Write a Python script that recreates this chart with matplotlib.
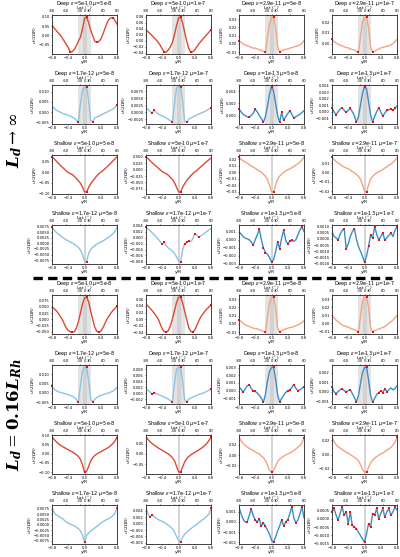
import numpy as np
import matplotlib
matplotlib.use('Agg')
import matplotlib.pyplot as plt
from matplotlib.lines import Line2D
from matplotlib.ticker import MultipleLocator

# ---------------- data ----------------
y_over_R = [-0.8, -0.75, -0.7, -0.65, -0.6, -0.55, -0.5, -0.45, -0.4, -0.35, -0.3, -0.25, -0.2,
            -0.15, -0.1, -0.05, 0.0, 0.05, 0.1, 0.15, 0.2, 0.25, 0.3, 0.35, 0.4, 0.45, 0.5,
            0.55, 0.6, 0.65, 0.7, 0.75, 0.8]
lat_tick_pos = [-0.8, -0.46, -0.11, 0.0, 0.11, 0.46, 0.8]
lat_tick_lbl = ['-80', '-60', '-30', '0', '30', '60', '80']

eps_big = ['5e-10', '5e-10', '2.9e-11', '2.9e-11']
eps_small = ['1.7e-12', '1.7e-12', '1e-13', '1e-13']
mu_vals = ['5e-8', '1e-7', '5e-8', '1e-7']
regime = ['Deep', 'Deep', 'Shallow', 'Shallow']

# y tick spacing (row by row, 4 columns)
ystep_r1 = [0.05, 0.02, 0.01, 0.01]
ystep_r2 = [0.005, 0.0025, 0.002, 0.001]
ystep_r3 = [0.05, 0.025, 0.01, 0.01]
ystep_r4 = [0.0025, 0.002, 0.001, 0.0005]
ystep_r5 = [0.025, 0.02, 0.01, 0.01]
ystep_r6 = [0.005, 0.002, 0.001, 0.001]
ystep_r7 = [0.05, 0.05, 0.02, 0.02]
ystep_r8 = [0.0025, 0.002, 0.001, 0.0005]

# ---- L_d -> infinity ----
u_r1c1 = [0.055,0.04,0.028,0.015,0.003,-0.012,-0.03,-0.048,-0.065,-0.09,-0.086,-0.075,-0.055,-0.03,-0.01,0.035,0.09,0.1,0.07,0.03,0.0,-0.03,-0.037,-0.033,-0.02,0.005,0.035,0.065,0.085,0.094,0.095,0.08,0.06]
u_r1c2 = [0.037,0.03,0.024,0.017,0.01,0.003,-0.005,-0.015,-0.027,-0.038,-0.038,-0.03,-0.02,-0.005,0.02,0.05,0.075,0.08,0.06,0.03,0.0,-0.025,-0.038,-0.037,-0.03,-0.02,-0.01,-0.002,0.006,0.014,0.021,0.029,0.037]
u_r1c3 = [0.004,0.002,0.0,-0.001,-0.002,-0.003,-0.004,-0.005,-0.005,-0.006,-0.007,-0.008,-0.009,-0.01,0.008,0.025,0.032,0.033,0.02,-0.003,-0.01,-0.008,-0.0075,-0.0065,-0.006,-0.005,-0.0045,-0.0035,-0.003,-0.002,-0.001,0.001,0.004]
u_r1c4 = [0.004,0.002,0.0005,-0.0005,-0.0015,-0.002,-0.003,-0.0035,-0.004,-0.005,-0.0055,-0.006,-0.007,-0.008,0.006,0.02,0.024,0.025,0.015,-0.003,-0.008,-0.007,-0.006,-0.005,-0.004,-0.0035,-0.003,-0.0025,-0.002,-0.001,0.0,0.002,0.004]
u_r2c1 = [0.003,0.002,0.001,0.0005,0.0,-0.0005,-0.001,-0.0012,-0.0015,-0.002,-0.0025,-0.003,-0.004,-0.005,0.004,0.011,0.012,0.0125,0.006,-0.004,-0.005,-0.003,-0.0025,-0.002,-0.0015,-0.001,-0.0005,0.0,0.0005,0.001,0.0015,0.0025,0.0035]
u_r2c2 = [0.0017,0.001,0.0003,-0.0003,0.0007,0.0,-0.0005,-0.001,-0.0013,-0.0016,-0.002,-0.0025,-0.003,-0.0035,0.003,0.0085,0.009,0.009,0.004,-0.003,-0.0035,-0.0025,-0.002,-0.0017,-0.0013,-0.001,-0.0006,-0.0003,0.0,0.0003,0.0007,0.0012,0.0016]
u_r2c3 = [0.0011,0.0006,0.0002,0.0,-0.0002,-0.0003,0.0,0.0004,0.001,0.0006,0.0,-0.0005,-0.0011,-0.0002,0.0015,0.0035,0.0047,0.004,0.002,0.0,-0.0011,0.0005,-0.0008,-0.0002,0.0003,0.0008,0.0002,-0.0004,-0.0002,0.0,0.0002,0.0005,0.0008]
u_r2c4 = [0.0006,0.0,-0.0005,0.0,0.0004,0.0006,0.0002,-0.0001,0.0002,0.0005,0.0,-0.0006,-0.0016,-0.0008,0.001,0.0028,0.0038,0.0035,0.0015,-0.0005,-0.0016,-0.0007,0.0,0.0006,0.0,-0.0007,-0.0002,0.0002,0.0003,0.0004,0.0002,0.0005,0.0009]
u_r3c1 = [0.072,0.063,0.053,0.043,0.033,0.024,0.015,0.006,-0.002,-0.007,-0.011,-0.02,-0.03,-0.04,-0.052,-0.07,-0.092,-0.094,-0.072,-0.055,-0.042,-0.03,-0.018,-0.008,0.0,0.007,0.015,0.024,0.033,0.043,0.053,0.062,0.072]
u_r3c2 = [0.05,0.043,0.035,0.027,0.02,0.013,0.006,-0.001,-0.008,-0.012,-0.016,-0.022,-0.03,-0.038,-0.05,-0.068,-0.086,-0.088,-0.07,-0.055,-0.043,-0.033,-0.024,-0.016,-0.009,-0.003,0.004,0.011,0.018,0.025,0.032,0.039,0.045]
u_r3c3 = [0.024,0.02,0.018,0.016,0.014,0.012,0.01,0.008,0.006,0.004,0.002,0.0,-0.003,-0.006,-0.011,-0.02,-0.03,-0.031,-0.02,-0.011,-0.006,-0.003,0.0,0.002,0.004,0.005,0.007,0.009,0.011,0.013,0.016,0.019,0.023]
u_r3c4 = [0.017,0.014,0.012,0.01,0.009,0.007,0.006,0.005,0.004,0.003,0.001,0.0,-0.002,-0.004,-0.007,-0.013,-0.02,-0.021,-0.013,-0.007,-0.004,-0.002,0.0,0.001,0.002,0.003,0.005,0.006,0.008,0.009,0.011,0.013,0.016]
u_r4c1 = [0.0074,0.006,0.005,0.0042,0.0035,0.0028,0.0022,0.0016,0.0011,0.0006,0.0002,-0.0004,-0.001,-0.0018,-0.003,-0.005,-0.0078,-0.0084,-0.0045,-0.0028,-0.0018,-0.001,-0.0004,0.0001,0.0006,0.0011,0.0016,0.0022,0.0028,0.0035,0.0043,0.0054,0.0072]
u_r4c2 = [0.0037,0.003,0.0024,0.0017,0.001,0.0003,-0.0005,-0.0013,-0.0022,-0.0015,-0.0028,-0.0035,-0.004,-0.0045,-0.0053,-0.0065,-0.0078,-0.0083,-0.0042,-0.002,-0.0016,-0.0011,-0.0014,-0.0004,0.0014,0.0008,0.0001,0.0006,0.0011,0.0016,0.0021,0.0026,0.0031]
u_r4c3 = [0.001,0.0007,0.0004,0.0002,0.0001,0.0,-0.0003,-0.0007,0.0,0.0006,0.0013,0.0,-0.001,-0.0016,-0.0018,-0.0022,-0.0028,-0.0025,-0.0015,-0.0003,-0.0011,0.0002,0.0012,-0.0001,-0.0005,-0.0002,-0.0001,-0.0002,0.0,0.0006,0.0012,0.0016,0.001]
u_r4c4 = [0.0006,0.0002,0.0001,-0.0001,0.0004,0.0007,0.00085,-0.0008,-0.0004,0.0002,0.0006,0.00085,0.0,-0.0006,-0.001,-0.0014,-0.0019,-0.0014,-0.0006,0.0003,0.0001,0.001,0.0004,-0.0001,0.0002,0.0005,-0.0001,0.0001,0.0003,0.0005,0.0002,0.0007,0.001]
# ---- L_d = 0.16 L_Rh ----
u_r5c1 = [0.05,0.043,0.035,0.025,0.012,0.0,-0.018,-0.035,-0.045,-0.05,-0.052,-0.05,-0.035,-0.01,0.025,0.06,0.085,0.09,0.07,0.035,0.0,-0.03,-0.048,-0.052,-0.048,-0.035,-0.018,0.0,0.012,0.025,0.035,0.043,0.052]
u_r5c2 = [0.045,0.04,0.033,0.026,0.018,0.01,0.0,-0.015,-0.03,-0.038,-0.04,-0.035,-0.02,0.0,0.025,0.05,0.066,0.068,0.05,0.025,0.0,-0.025,-0.037,-0.04,-0.033,-0.02,-0.005,0.007,0.016,0.024,0.031,0.037,0.043]
u_r5c3 = [0.005,0.003,0.001,-0.001,-0.002,-0.003,-0.004,-0.005,-0.0055,-0.006,-0.007,-0.008,-0.009,-0.01,0.008,0.026,0.032,0.033,0.02,-0.004,-0.01,-0.008,-0.007,-0.006,-0.005,-0.0045,-0.004,-0.003,-0.002,-0.001,0.0,0.002,0.004]
u_r5c4 = [0.01,0.007,0.004,0.002,0.0,-0.002,-0.003,-0.004,-0.005,-0.006,-0.007,-0.008,-0.009,-0.011,0.008,0.027,0.032,0.033,0.02,-0.005,-0.011,-0.009,-0.008,-0.007,-0.006,-0.005,-0.004,-0.002,0.0,0.002,0.004,0.007,0.01]
u_r6c1 = [0.0037,0.002,0.0012,0.0007,0.0003,0.0,-0.0003,-0.0006,-0.001,-0.0013,-0.0018,-0.0025,-0.0035,-0.005,0.004,0.012,0.0135,0.014,0.007,-0.003,-0.005,-0.0035,-0.0025,-0.0018,-0.0013,-0.001,-0.0006,-0.0003,0.0,0.0005,0.001,0.0018,0.003]
u_r6c2 = [0.0015,0.0009,0.0004,-0.0003,0.0002,-0.0001,-0.0004,-0.0007,-0.001,-0.0013,-0.0016,-0.002,-0.0025,-0.003,0.003,0.008,0.0085,0.0088,0.004,-0.002,-0.003,-0.002,-0.0016,-0.0013,-0.001,-0.0007,-0.0004,-0.0002,0.0,0.0003,0.0006,0.001,0.0015]
u_r6c3 = [0.0005,0.0002,-0.0002,0.0002,0.0006,0.0008,0.0003,0.0,-0.0001,-0.0003,-0.0006,-0.001,-0.0015,-0.0005,0.0012,0.0025,0.003,0.0031,0.0015,-0.0005,-0.0015,-0.001,-0.0006,-0.0002,-0.0001,0.0001,0.0004,0.0008,0.0003,0.0,0.0001,0.0003,0.0005]
u_r6c4 = [0.0005,0.0,-0.0002,0.0,0.0002,0.0003,0.0001,0.0,0.0001,0.0002,-0.0002,-0.0006,-0.0011,-0.0004,0.0008,0.002,0.0025,0.0026,0.0012,-0.0004,-0.0011,-0.0007,-0.0003,-0.0001,0.0001,-0.0001,0.0003,0.0,0.0002,0.0004,0.0002,0.0003,0.0006]
u_r7c1 = [0.092,0.078,0.066,0.056,0.047,0.04,0.034,0.028,0.022,0.016,0.01,0.003,-0.005,-0.015,-0.03,-0.06,-0.1,-0.095,-0.07,-0.04,-0.022,-0.01,-0.002,0.005,0.011,0.017,0.023,0.029,0.036,0.045,0.056,0.07,0.088]
u_r7c2 = [0.085,0.072,0.061,0.052,0.044,0.037,0.03,0.024,0.018,0.012,0.006,0.0,-0.008,-0.018,-0.033,-0.06,-0.088,-0.09,-0.065,-0.04,-0.024,-0.013,-0.005,0.002,0.008,0.014,0.02,0.027,0.034,0.043,0.053,0.066,0.083]
u_r7c3 = [0.036,0.028,0.023,0.019,0.016,0.013,0.011,0.009,0.006,0.004,0.002,-0.002,-0.005,-0.011,-0.02,-0.03,-0.034,-0.031,-0.022,-0.013,-0.008,-0.005,-0.002,0.0,0.002,0.004,0.006,0.009,0.012,0.015,0.019,0.024,0.034]
u_r7c4 = [0.025,0.018,0.014,0.011,0.009,0.007,0.005,0.003,0.002,0.0,-0.002,-0.004,-0.006,-0.009,-0.014,-0.021,-0.025,-0.025,-0.018,-0.012,-0.008,-0.005,-0.003,-0.001,0.001,0.002,0.004,0.006,0.008,0.01,0.013,0.017,0.024]
u_r8c1 = [0.0085,0.0058,0.0048,0.0042,0.0036,0.003,0.0022,0.0014,0.0008,0.0003,0.0,-0.0005,-0.0012,-0.0018,-0.0028,-0.0048,-0.0082,-0.005,-0.004,-0.003,-0.0022,-0.0015,-0.0008,0.0,0.0008,0.0014,0.002,0.0025,0.003,0.0036,0.0043,0.0055,0.0079]
u_r8c2 = [0.0053,0.003,0.0021,0.0028,0.0022,0.0017,0.0013,0.001,0.0007,0.0004,0.0,-0.0005,-0.001,-0.0016,-0.0025,-0.004,-0.0052,-0.0058,-0.0042,-0.0033,-0.0027,-0.0021,-0.0016,-0.0011,-0.0006,-0.0002,0.0003,0.0008,0.0013,0.0018,0.0024,0.003,0.0048]
u_r8c3 = [0.0015,0.0008,0.0003,0.0,0.0,0.0006,0.0013,0.0006,0.0002,0.0,0.0003,-0.0004,-0.0001,-0.0004,-0.0008,-0.0012,-0.0018,-0.002,-0.0015,-0.0009,-0.0004,0.0002,-0.0004,0.0,0.0002,0.0008,0.0015,0.0004,-0.0001,0.0002,0.0008,0.0015,0.0004]
u_r8c4 = [0.0004,0.0006,0.0002,-0.0001,0.0003,0.0007,0.0002,0.0004,-0.0003,0.0004,-0.0004,-0.0005,-0.0006,-0.0008,-0.001,-0.0012,-0.0014,-0.0009,-0.0003,-0.0005,0.0003,0.0002,0.0006,0.0,0.0003,0.0006,0.0001,0.0004,0.0006,0.0002,0.0004,0.0007,0.0005]

# indices (into y_over_R) of the highlighted extrema
m_r1c1 = [9, 17, 22, 30]
m_r1c2 = [9, 17, 22, 32]
m_r1c3 = [0, 13, 17, 20]
m_r1c4 = [0, 13, 17, 20]
m_r2c1 = [13, 17, 20, 32]
m_r2c2 = [3, 4, 13, 17, 20, 32]
m_r2c3 = [0, 5, 8, 12, 16, 20, 21, 22, 25, 27]
m_r2c4 = [0, 2, 5, 7, 9, 12, 16, 20, 23, 25, 27, 29, 30, 31]
m_r3c1 = [0, 17]
m_r3c2 = [0, 17]
m_r3c3 = [0, 17]
m_r3c4 = [0, 17]
m_r4c1 = [0, 17]
m_r4c2 = [0, 8, 9, 17, 19, 20, 21, 24, 26]
m_r4c3 = [7, 10, 12, 13, 16, 19, 20, 22, 24, 25, 26, 31]
m_r4c4 = [3, 6, 7, 11, 16, 18, 19, 20, 21, 23, 25, 26, 29, 32]
m_r5c1 = [10, 17, 23, 32]
m_r5c2 = [10, 17, 23, 32]
m_r5c3 = [0, 13, 17, 20]
m_r5c4 = [13, 17, 20]
m_r6c1 = [0, 13, 17, 20]
m_r6c2 = [3, 4, 13, 17, 20, 32]
m_r6c3 = [2, 5, 7, 8, 12, 17, 20, 24, 25, 27, 29, 32]
m_r6c4 = [0, 2, 5, 7, 9, 12, 17, 20, 23, 24, 25, 26, 27]
m_r7c1 = [16, 32]
m_r7c2 = [17, 32]
m_r7c3 = [16, 32]
m_r7c4 = [17, 32]
m_r8c1 = [16, 32]
m_r8c2 = [2, 3, 17, 32]
m_r8c3 = [4, 6, 8, 9, 10, 11, 12, 13, 17, 21, 22, 23, 24, 26, 28, 31]
m_r8c4 = [0, 1, 3, 5, 6, 7, 8, 9, 10, 11, 12, 16, 18, 19, 20, 21, 22, 23, 25, 26, 28, 29, 31]

g = globals()
series = [[g[f'u_r{r}c{c}'] for c in range(1, 5)] for r in range(1, 9)]
marks = [[g[f'm_r{r}c{c}'] for c in range(1, 5)] for r in range(1, 9)]
ysteps = [g[f'ystep_r{r}'] for r in range(1, 9)]

# ---------------- figure ----------------
W, H = 400, 557
fig = plt.figure(figsize=(W / 100, H / 100), dpi=100)

lefts = [52, 146, 239, 332]
AW, AH = 65, 39
col_red, col_salmon = '#dc4a34', '#f4a383'
col_lblue, col_blue = '#8cc4e2', '#3d8dc5'
TICK_FS, LAB_FS, TITLE_FS = 2.7, 3.2, 3.5

x = np.array(y_over_R)
for r in range(8):
    top = 15 + 70 * r
    for c in range(4):
        u = np.array(series[r][c])
        ax = fig.add_axes([lefts[c] / W, 1 - (top + AH) / H, AW / W, AH / H])
        deep = regime[r % 4] == 'Deep'
        if deep:
            ax.axvspan(-0.16, 0.17, color='#e3e3e3', lw=0, zorder=0)
            ax.axvspan(-0.04, 0.05, color='#d2d2d2', lw=0, zorder=0)
        else:
            ax.axvspan(-0.015, 0.025, color='#d5d5d5', lw=0, zorder=0)
        if r % 2 == 0:
            col = col_red if c < 2 else col_salmon
            eps = eps_big[c]
        else:
            col = col_lblue if c < 2 else col_blue
            eps = eps_small[c]
        ax.plot(x, u, color=col, lw=1.0, zorder=2)
        mi = marks[r][c]
        ax.plot(x[mi], u[mi], 's', color='#ee1111', ms=2.1, mew=0, zorder=3, clip_on=False)
        ax.set_xlim(-0.8, 0.8)
        ax.set_xticks([-0.8, -0.4, 0.0, 0.4, 0.8])
        ax.yaxis.set_major_locator(MultipleLocator(ysteps[r][c]))
        ax.tick_params(labelsize=TICK_FS, length=1.0, width=0.4, pad=0.5)
        ax.set_ylabel('u/(2ΩR)', fontsize=LAB_FS, labelpad=1.2)
        ax.text(0.5, -8.5 / AH, 'y/R', transform=ax.transAxes, ha='center', va='center',
                fontsize=LAB_FS)
        for sp in ax.spines.values():
            sp.set_linewidth(0.5)
            sp.set_color('#333333')
        ax2 = ax.twiny()
        ax2.set_xlim(-0.8, 0.8)
        ax2.set_xticks(lat_tick_pos)
        ax2.set_xticklabels(lat_tick_lbl)
        ax2.tick_params(labelsize=TICK_FS, length=1.0, width=0.4, pad=0.4)
        for sp in ax2.spines.values():
            sp.set_linewidth(0.5)
            sp.set_color('#333333')
        ax.text(0.5, 1 + 7.3 / AH, r'Lat ($^\circ$)', transform=ax.transAxes, ha='center',
                va='center', fontsize=LAB_FS)
        ax.text(0.5, 1 + 11.9 / AH, f'{regime[r % 4]} $\\epsilon$={eps} $\\mu$={mu_vals[c]}',
                transform=ax.transAxes, ha='center', va='center', fontsize=TITLE_FS)

# separator
fig.add_artist(Line2D([33 / W, 392 / W], [1 - 278 / H, 1 - 278 / H], transform=fig.transFigure,
                      color='black', lw=2.4, dashes=(2.8, 1.6)))

lab1 = r'$\mathbfit{L}_{\mathbfit{d}}\rightarrow\infty$'
lab2 = r'$\mathbfit{L}_{\mathbfit{d}}=\mathbf{0.16}\mathbfit{L}_{\mathbfit{Rh}}$'
try:
    tf = plt.figure()
    tf.text(0.5, 0.5, lab2, math_fontfamily='dejavuserif')
    tf.canvas.draw()
    plt.close(tf)
except Exception:
    lab1 = r'$\mathbf{L_d\rightarrow\infty}$'
    lab2 = r'$\mathbf{L_d=0.16L_{Rh}}$'

fig.text(15 / W, 1 - 140 / H, lab1, rotation=90, fontsize=12, ha='center', va='center',
         math_fontfamily='dejavuserif')
fig.text(15 / W, 1 - 415 / H, lab2, rotation=90, fontsize=12, ha='center', va='center',
         math_fontfamily='dejavuserif')

fig.savefig('out.png', dpi=100)
